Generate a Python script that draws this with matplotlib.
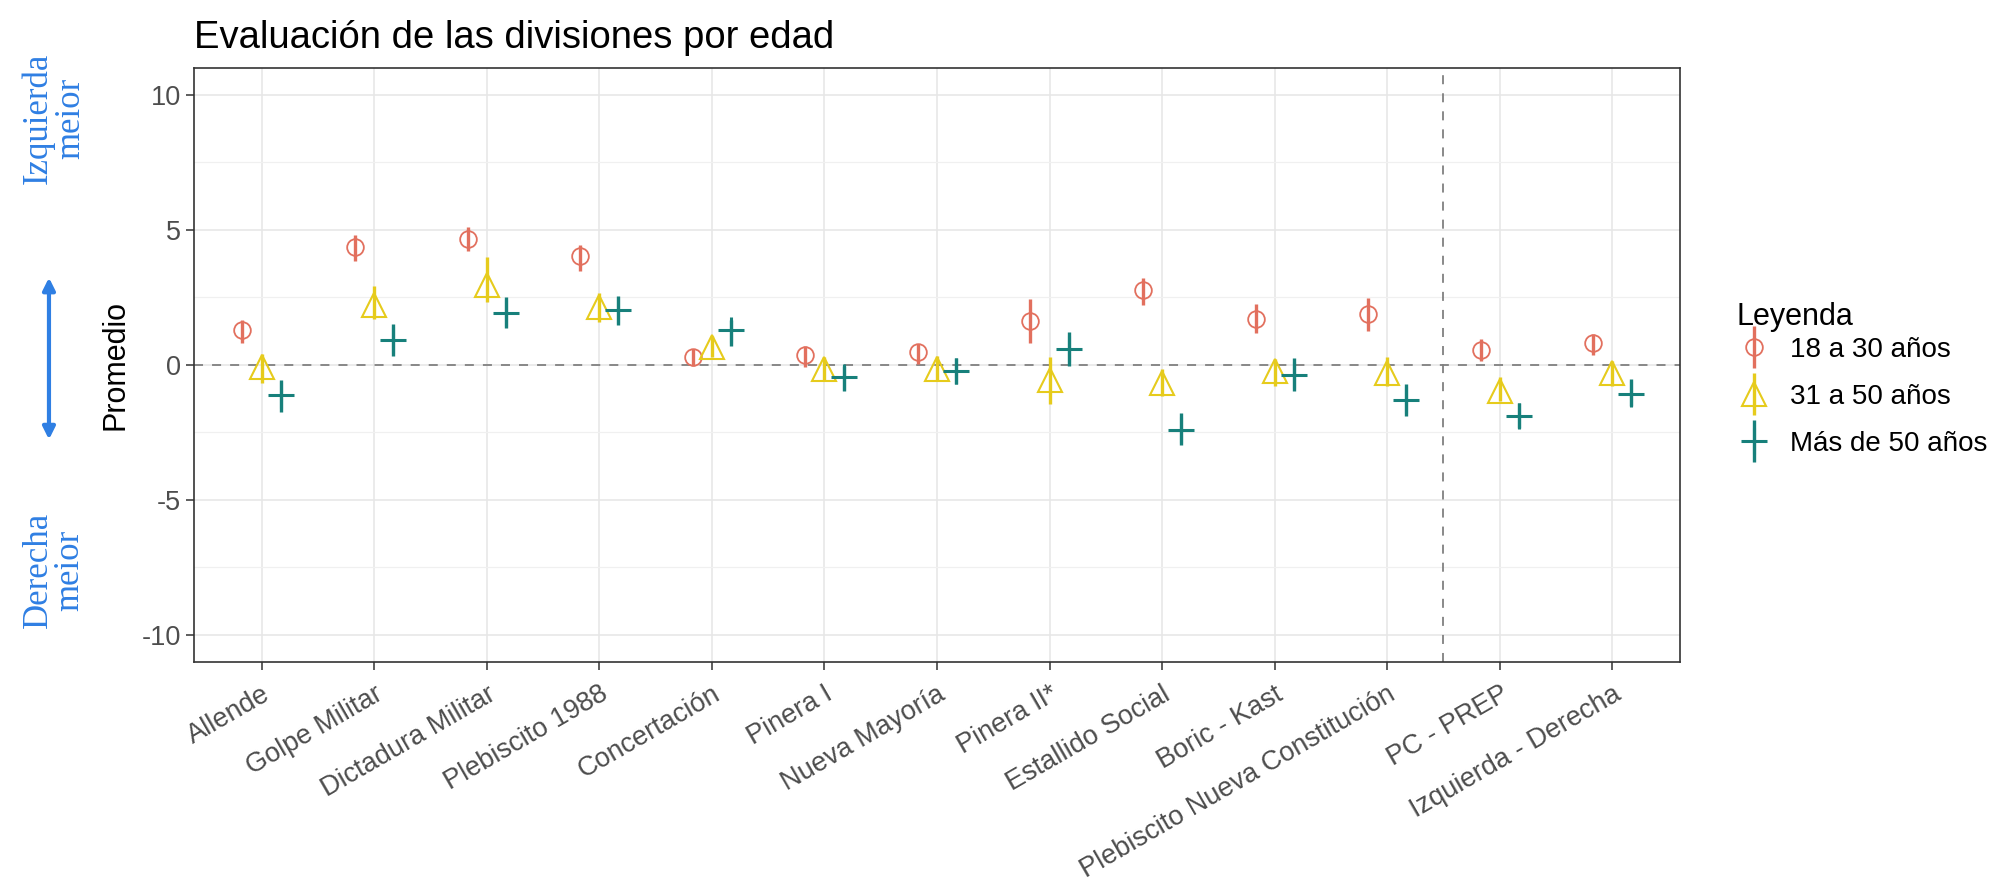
import matplotlib.pyplot as plt
from matplotlib.lines import Line2D
from matplotlib.patches import FancyArrowPatch
from matplotlib.legend_handler import HandlerTuple
from matplotlib.ticker import MultipleLocator

categorias = ['Allende', 'Golpe Militar', 'Dictadura Militar', 'Plebiscito 1988',
              'Concertación', 'Pinera I', 'Nueva Mayoría', 'Pinera II*',
              'Estallido Social', 'Boric - Kast', 'Plebiscito Nueva Constitución',
              'PC - PREP', 'Izquierda - Derecha']

# 18 a 30 años
joven = [1.27, 4.38, 4.65, 4.03, 0.27, 0.37, 0.46, 1.62, 2.76, 1.70, 1.89, 0.56, 0.80]
joven_lo = [0.80, 3.86, 4.23, 3.48, -0.04, -0.10, 0.02, 0.80, 2.20, 1.17, 1.24, 0.12, 0.37]
joven_hi = [1.64, 4.81, 5.10, 4.44, 0.58, 0.71, 0.77, 2.45, 3.20, 2.24, 2.48, 0.96, 1.14]

# 31 a 50 años
medio = [-0.10, 2.22, 2.95, 2.14, 0.65, -0.16, -0.16, -0.58, -0.66, -0.22, -0.29, -0.97, -0.29]
medio_lo = [-0.66, 1.70, 2.33, 1.58, 0.27, -0.60, -0.60, -1.47, -1.16, -0.78, -0.78, -1.34, -0.78]
medio_hi = [0.40, 2.90, 4.00, 2.64, 1.08, 0.27, 0.34, 0.27, -0.16, 0.21, 0.27, -0.47, 0.15]

# Más de 50 años
mayor = [-1.13, 0.90, 1.93, 2.01, 1.27, -0.47, -0.22, 0.58, -2.40, -0.37, -1.32, -1.90, -1.07]
mayor_lo = [-1.75, 0.34, 1.37, 1.46, 0.71, -0.97, -0.72, -0.04, -2.96, -0.97, -1.90, -2.35, -1.53]
mayor_hi = [-0.57, 1.52, 2.50, 2.55, 1.64, -0.04, 0.25, 1.20, -1.78, 0.25, -0.72, -1.41, -0.54]

grupos = ['18 a 30 años', '31 a 50 años', 'Más de 50 años']
colores = ['#E2705E', '#E6CB1C', '#17807B']

plt.rcParams['font.family'] = ['Liberation Sans', 'DejaVu Sans']
plt.rcParams['axes.unicode_minus'] = False

fig = plt.figure(figsize=(20.07, 8.81), dpi=100)
ax = fig.add_axes([0.0967, 0.249, 0.7403, 0.674])

series = [
    (joven, joven_lo, joven_hi, 'o', 12, 1.3),
    (medio, medio_lo, medio_hi, '^', 17, 1.5),
    (mayor, mayor_lo, mayor_hi, '+', 19, 2.2),
]
offsets = [-0.17, 0.0, 0.17]
x = list(range(len(categorias)))
handles = []
for (med, lo, hi, mk, ms, mew), off, col, lab in zip(series, offsets, colores, grupos):
    xs = [i + off for i in x]
    ax.vlines(xs, lo, hi, color=col, linewidth=2.4, zorder=3)
    ax.plot(xs, med, linestyle='none', marker=mk, markersize=ms, markerfacecolor='none',
            markeredgecolor=col, markeredgewidth=mew, zorder=4)
    h_bar = Line2D([], [], linestyle='none', marker='|', markersize=30, markeredgewidth=2.4, color=col)
    h_pt = Line2D([], [], linestyle='none', marker=mk, markersize=ms, markerfacecolor='none',
                  markeredgecolor=col, markeredgewidth=mew)
    handles.append((h_bar, h_pt))

ax.axhline(0, color='#808080', linewidth=1.3, linestyle=(0, (5, 5)), zorder=2)
ax.axvline(10.5, color='#808080', linewidth=1.3, linestyle=(0, (5, 5)), zorder=2)

ax.set_xlim(-0.6, len(categorias) - 0.4)
ax.set_ylim(-11, 11)
ax.set_yticks([-10, -5, 0, 5, 10])
ax.yaxis.set_minor_locator(MultipleLocator(2.5))
ax.set_xticks(x)
ax.set_xticklabels(categorias, rotation=30, ha='right', va='top', rotation_mode='anchor')
ax.grid(True, which='major', color='#E6E6E6', linewidth=1.1, zorder=0)
ax.grid(True, which='minor', axis='y', color='#F0F0F0', linewidth=0.9, zorder=0)
ax.set_axisbelow(True)
ax.tick_params(axis='both', which='major', labelsize=19.5, colors='#333333', length=6, width=1.1,
               labelcolor='#4D4D4D')
ax.tick_params(axis='x', which='major', pad=8)
ax.tick_params(axis='y', which='minor', length=0)
for s in ax.spines.values():
    s.set_color('#333333')
    s.set_linewidth(1.2)

ax.set_ylabel('Promedio', fontsize=22, labelpad=8)
ax.set_title('Evaluación de las divisiones por edad', fontsize=27.5, loc='left', pad=14)

leg = fig.legend(handles, grupos, title='Leyenda', loc='upper left',
                 bbox_to_anchor=(0.853, 0.686), frameon=False, fontsize=20,
                 title_fontsize=22, handlelength=1.2, handletextpad=0.7, labelspacing=0.75,
                 handler_map={tuple: HandlerTuple(ndivide=1)})
leg._legend_box.align = 'left'
leg._legend_box.sep = 4

azul = '#2F7FE3'
fig.text(0.027, 0.866, 'Izquierda\nmeior', rotation=90, ha='center', va='center',
         color=azul, fontsize=25, family='Liberation Serif', linespacing=0.95)
fig.text(0.027, 0.353, 'Derecha\nmeior', rotation=90, ha='center', va='center',
         color=azul, fontsize=25, family='Liberation Serif', linespacing=0.95)
flecha = FancyArrowPatch((0.0244, 0.688), (0.0244, 0.498), transform=fig.transFigure,
                         arrowstyle='<|-|>', mutation_scale=18, color=azul, linewidth=3)
fig.patches.append(flecha)

fig.savefig('out.png', dpi=100)
